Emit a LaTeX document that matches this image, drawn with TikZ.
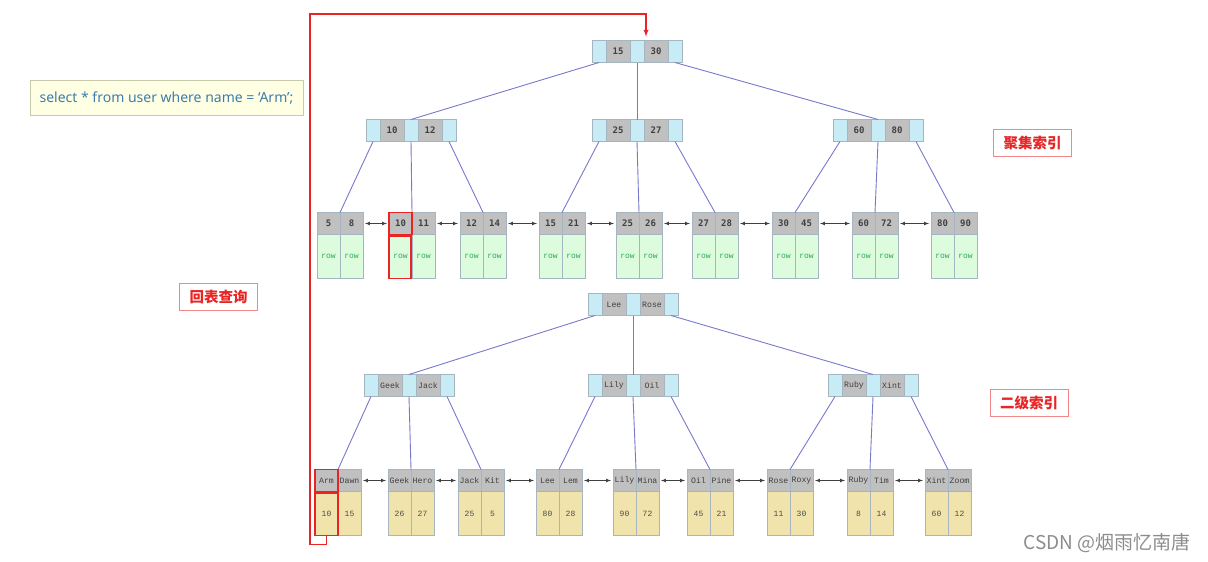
\documentclass[tikz,border=0pt]{standalone}
\usepackage{fontspec}
\setmonofont{Liberation Mono}
\newfontfamily\numfont{DejaVu Sans Mono}
\newfontfamily\sqlfont{Noto Sans}
\newfontfamily\cjkfont{Noto Sans CJK SC}
\usetikzlibrary{arrows,positioning,calc}
\definecolor{ptrblue}{RGB}{200,236,245}
\definecolor{keygray}{RGB}{192,192,192}
\definecolor{cellline}{RGB}{165,182,192}
\definecolor{rowgreen}{RGB}{221,252,221}
\definecolor{rowtext}{RGB}{40,170,80}
\definecolor{valyellow}{RGB}{240,228,172}
\definecolor{linkblue}{RGB}{120,120,205}
\definecolor{hitred}{RGB}{232,36,36}
\definecolor{sqltext}{RGB}{60,125,175}
\definecolor{sqlfill}{RGB}{255,255,228}
\definecolor{sqlline}{RGB}{200,200,170}

% inner node: name, left x, mid y, key style, key 1, key 2
\newcommand{\inode}[6]{%
  \node[ptr, anchor=west] (#1-p1) at (#2,#3) {};
  \node[#4, right=0pt of #1-p1] (#1-k1) {#5};
  \node[ptr, right=0pt of #1-k1] (#1-p2) {};
  \node[#4, right=0pt of #1-p2] (#1-k2) {#6};
  \node[ptr, right=0pt of #1-k2] (#1-p3) {};
}
% leaf: name, left x, top y, key style, cell style, keys, cells
\newcommand{\leafnode}[9]{%
  \node[#4, anchor=north west] (#1-k1) at (#2,#3) {#6};
  \node[#4, right=0pt of #1-k1] (#1-k2) {#7};
  \node[#5, below=0pt of #1-k1] (#1-v1) {#8};
  \node[#5, below=0pt of #1-k2] (#1-v2) {#9};
}

\begin{document}
\begin{tikzpicture}[x=1pt, y=-1pt,
    cell/.style={draw=cellline, line width=0.6pt, inner sep=0pt, outer sep=0pt},
    ptr/.style={cell, fill=ptrblue, minimum width=14pt, minimum height=22pt},
    numkey/.style={cell, fill=keygray, minimum width=24pt, minimum height=22pt, text=black!75, font=\numfont\bfseries\fontsize{9}{10}\selectfont},
    namekey/.style={numkey, font=\ttfamily\fontsize{8.2}{9}\selectfont},
    numleaf/.style={numkey, minimum width=23pt},
    nameleaf/.style={namekey, minimum width=23pt},
    rowcell/.style={cell, fill=rowgreen, minimum width=23pt, minimum height=44pt, text=rowtext, font=\ttfamily\fontsize{8}{9}\selectfont},
    valcell/.style={rowcell, fill=valyellow, text=black!70},
    link/.style={linkblue, line width=0.9pt},
    dlink/.style={<->, >=latex, black!75, line width=0.7pt, shorten <=2pt, shorten >=2pt},
    hitbox/.style={draw=hitred, line width=1.6pt},
    tag/.style={draw=hitred!55, line width=0.8pt, text=hitred, minimum width=78pt, minimum height=27pt, font=\cjkfont\bfseries\fontsize{14.5}{16}\selectfont}]
  \useasboundingbox (0,0) rectangle (1208,562);

  % clustered index
  \inode{c0}{592}{51.5}{numkey}{15}{30}
  \inode{c1}{366}{130.5}{numkey}{10}{12}
  \inode{c2}{592}{130.5}{numkey}{25}{27}
  \inode{c3}{833}{130.5}{numkey}{60}{80}

  \leafnode{l1}{317}{212.5}{numleaf}{rowcell}{5}{8}{row}{row}
  \leafnode{l2}{389}{212.5}{numleaf}{rowcell}{10}{11}{row}{row}
  \leafnode{l3}{460}{212.5}{numleaf}{rowcell}{12}{14}{row}{row}
  \leafnode{l4}{539}{212.5}{numleaf}{rowcell}{15}{21}{row}{row}
  \leafnode{l5}{616}{212.5}{numleaf}{rowcell}{25}{26}{row}{row}
  \leafnode{l6}{692}{212.5}{numleaf}{rowcell}{27}{28}{row}{row}
  \leafnode{l7}{772}{212.5}{numleaf}{rowcell}{30}{45}{row}{row}
  \leafnode{l8}{852}{212.5}{numleaf}{rowcell}{60}{72}{row}{row}
  \leafnode{l9}{931}{212.5}{numleaf}{rowcell}{80}{90}{row}{row}

  \draw[link] (c0-p1.south) -- (c1-p2.north);
  \draw[link] (c0-p2.south) -- (c2-p2.north);
  \draw[link] (c0-p3.south) -- (c3-p2.north);
  \draw[link] (c1-p1.south) -- (l1-k1.north east);
  \draw[link] (c1-p2.south) -- (l2-k1.north east);
  \draw[link] (c1-p3.south) -- (l3-k1.north east);
  \draw[link] (c2-p1.south) -- (l4-k1.north east);
  \draw[link] (c2-p2.south) -- (l5-k1.north east);
  \draw[link] (c2-p3.south) -- (l6-k1.north east);
  \draw[link] (c3-p1.south) -- (l7-k1.north east);
  \draw[link] (c3-p2.south) -- (l8-k1.north east);
  \draw[link] (c3-p3.south) -- (l9-k1.north east);

  \draw[dlink] (l1-k2.east) -- (l2-k1.west);
  \draw[dlink] (l2-k2.east) -- (l3-k1.west);
  \draw[dlink] (l3-k2.east) -- (l4-k1.west);
  \draw[dlink] (l4-k2.east) -- (l5-k1.west);
  \draw[dlink] (l5-k2.east) -- (l6-k1.west);
  \draw[dlink] (l6-k2.east) -- (l7-k1.west);
  \draw[dlink] (l7-k2.east) -- (l8-k1.west);
  \draw[dlink] (l8-k2.east) -- (l9-k1.west);

  % secondary index
  \inode{s0}{588}{304.5}{namekey}{Lee}{Rose}
  \inode{s1}{364}{385.5}{namekey}{Geek}{Jack}
  \inode{s2}{588}{385.5}{namekey}{Lily}{Oil}
  \inode{s3}{828}{385.5}{namekey}{Ruby}{Xint}

  \leafnode{a1}{315}{469.5}{nameleaf}{valcell}{Arm}{Dawn}{10}{15}
  \leafnode{a2}{388}{469.5}{nameleaf}{valcell}{Geek}{Hero}{26}{27}
  \leafnode{a3}{458}{469.5}{nameleaf}{valcell}{Jack}{Kit}{25}{5}
  \leafnode{a4}{536}{469.5}{nameleaf}{valcell}{Lee}{Lem}{80}{28}
  \leafnode{a5}{613}{469.5}{nameleaf}{valcell}{Lily}{Mina}{90}{72}
  \leafnode{a6}{687}{469.5}{nameleaf}{valcell}{Oil}{Pine}{45}{21}
  \leafnode{a7}{767}{469.5}{nameleaf}{valcell}{Rose}{Roxy}{11}{30}
  \leafnode{a8}{847}{469.5}{nameleaf}{valcell}{Ruby}{Tim}{8}{14}
  \leafnode{a9}{925}{469.5}{nameleaf}{valcell}{Xint}{Zoom}{60}{12}

  \draw[link] (s0-p1.south) -- (s1-p2.north);
  \draw[link] (s0-p2.south) -- (s2-p2.north);
  \draw[link] (s0-p3.south) -- (s3-p2.north);
  \draw[link] (s1-p1.south) -- (a1-k1.north east);
  \draw[link] (s1-p2.south) -- (a2-k1.north east);
  \draw[link] (s1-p3.south) -- (a3-k1.north east);
  \draw[link] (s2-p1.south) -- (a4-k1.north east);
  \draw[link] (s2-p2.south) -- (a5-k1.north east);
  \draw[link] (s2-p3.south) -- (a6-k1.north east);
  \draw[link] (s3-p1.south) -- (a7-k1.north east);
  \draw[link] (s3-p2.south) -- (a8-k1.north east);
  \draw[link] (s3-p3.south) -- (a9-k1.north east);

  \draw[dlink] (a1-k2.east) -- (a2-k1.west);
  \draw[dlink] (a2-k2.east) -- (a3-k1.west);
  \draw[dlink] (a3-k2.east) -- (a4-k1.west);
  \draw[dlink] (a4-k2.east) -- (a5-k1.west);
  \draw[dlink] (a5-k2.east) -- (a6-k1.west);
  \draw[dlink] (a6-k2.east) -- (a7-k1.west);
  \draw[dlink] (a7-k2.east) -- (a8-k1.west);
  \draw[dlink] (a8-k2.east) -- (a9-k1.west);

  % hits
  \draw[hitbox] (l2-k1.north west) rectangle (l2-k1.south east);
  \draw[hitbox] ([yshift=-1.5pt]l2-v1.north west) rectangle ([xshift=-1pt]l2-v1.south east);
  \draw[hitbox] (a1-k1.north west) rectangle (a1-k1.south east);
  \draw[hitbox] ([yshift=-1.5pt]a1-v1.north west) rectangle (a1-v1.south east);

  % back to the table
  \coordinate (bend) at (310,14);
  \draw[hitred, line width=1.3pt, -latex, shorten >=4pt] (a1-v1.south) -- ++(0,9) -| (bend) -| ([xshift=2pt]c0-k2.north west);

  % labels
  \node[draw=sqlline, fill=sqlfill, line width=0.8pt, text=sqltext, minimum width=273pt, minimum height=35.5pt,
        font=\sqlfont\fontsize{14}{16}\selectfont] (sql) at (166.5,98) {select * from user where name = ‘Arm’;};
  \node[tag] (back) at (218.5,297) {回表查询};
  \node[tag] (cidx) at (1032.5,143) {聚集索引};
  \node[tag] (sidx) at (1029,403) {二级索引};
  \node[anchor=west, text=black!45, font=\cjkfont\fontsize{19}{21}\selectfont] (mark) at (1020,543) {CSDN @烟雨忆南唐};
\end{tikzpicture}
\end{document}
